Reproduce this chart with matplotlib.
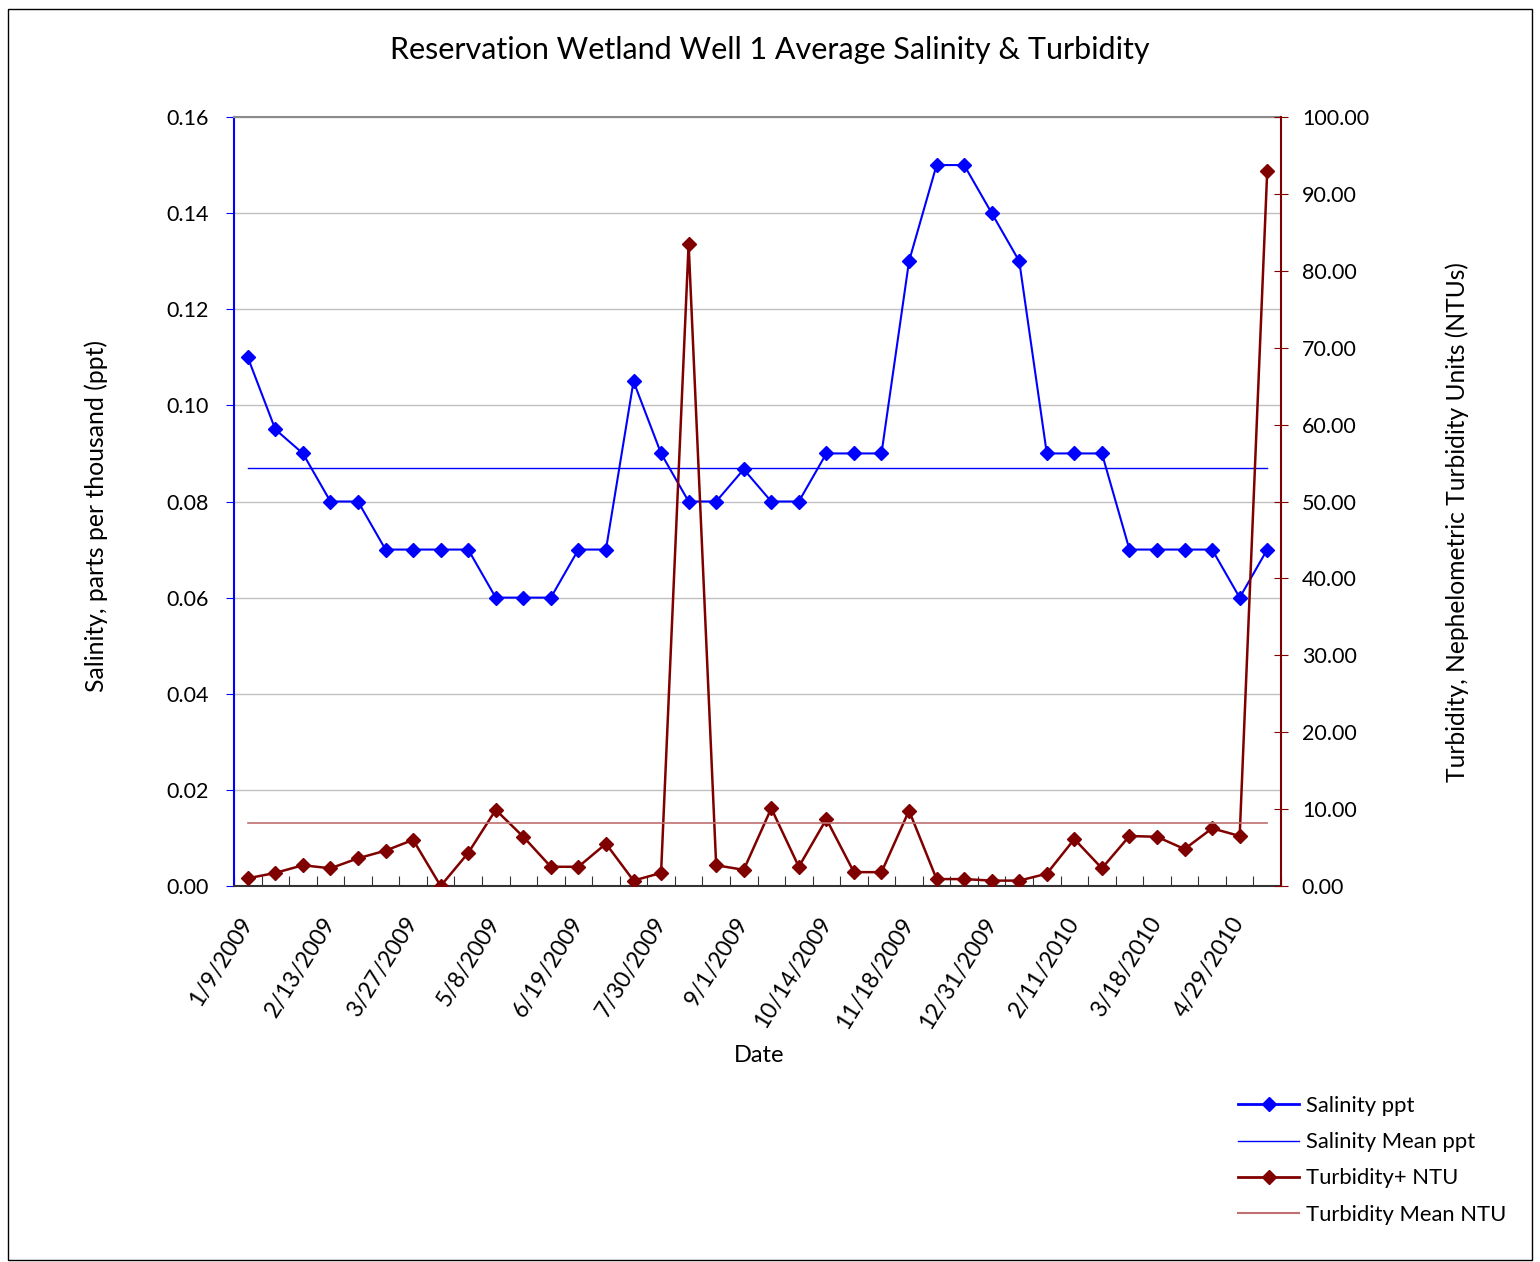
import matplotlib.pyplot as plt
import numpy as np
from matplotlib.lines import Line2D
from matplotlib.patches import Rectangle
from matplotlib.ticker import FormatStrFormatter

plt.rcParams['font.family'] = ['Lato', 'DejaVu Sans']

# labels shown on every 3rd sample date
date_labels = ['1/9/2009', '2/13/2009', '3/27/2009', '5/8/2009', '6/19/2009',
               '7/30/2009', '9/1/2009', '10/14/2009', '11/18/2009', '12/31/2009',
               '2/11/2010', '3/18/2010', '4/29/2010']

salinity = [0.11, 0.095, 0.09, 0.08, 0.08, 0.07, 0.07, 0.07, 0.07, 0.06,
            0.06, 0.06, 0.07, 0.07, 0.105, 0.09, 0.08, 0.08, 0.0867, 0.08,
            0.08, 0.09, 0.09, 0.09, 0.13, 0.15, 0.15, 0.14, 0.13, 0.09,
            0.09, 0.09, 0.07, 0.07, 0.07, 0.07, 0.06, 0.07]

turbidity = [1.0, 1.7, 2.7, 2.3, 3.6, 4.6, 6.0, 0.0, 4.3, 9.9,
             6.4, 2.5, 2.5, 5.5, 0.7, 1.7, 83.5, 2.7, 2.1, 10.1,
             2.5, 8.7, 1.8, 1.8, 9.8, 0.9, 0.9, 0.7, 0.7, 1.6,
             6.1, 2.3, 6.5, 6.4, 4.8, 7.5, 6.5, 93.0]

sal_mean = 0.087
turb_mean = 8.2

W, H = 1540, 1262
fig = plt.figure(figsize=(W / 100, H / 100), dpi=100)
ax = fig.add_axes([234 / W, 1 - 886 / H, (1281 - 234) / W, (886 - 117) / H])
ax2 = ax.twinx()

blue = '#0000FF'
red = '#800000'
x = np.arange(len(salinity))

ax.plot(x, salinity, color=blue, lw=1.5, marker='D', ms=7)
ax.plot([x[0], x[-1]], [sal_mean, sal_mean], color=blue, lw=1)
ax2.plot(x, turbidity, color=red, lw=1.8, marker='D', ms=7)
ax2.plot([x[0], x[-1]], [turb_mean, turb_mean], color='#C07070', lw=1.2)

ax.set_xlim(-0.5, len(x) - 0.5)
ax.set_ylim(0, 0.16)
ax2.set_ylim(0, 100)
ax.set_yticks(np.arange(0, 0.161, 0.02))
ax2.set_yticks(np.arange(0, 100.1, 10))
ax.yaxis.set_major_formatter(FormatStrFormatter('%.2f'))
ax2.yaxis.set_major_formatter(FormatStrFormatter('%.2f'))

# category boundaries get the tick marks, labels sit on the samples
ax.set_xticks(np.arange(-0.5, len(x), 1))
ax.set_xticklabels([])
ax.set_xticks(x[::3], minor=True)
ax.set_xticklabels(date_labels, minor=True, rotation=58, ha='right',
                   va='center', rotation_mode='anchor', fontsize=16.5)
ax.tick_params(axis='x', which='major', direction='in', length=7, color='#333333')
ax.tick_params(axis='x', which='minor', length=0, pad=24)

ax.tick_params(axis='y', direction='out', length=6, color=blue, labelsize=15.5, pad=12)
ax2.tick_params(axis='y', direction='inout', length=10, color=red, labelsize=15.5, pad=10)

ax.grid(axis='y', color='#C0C0C0', lw=1)
ax.set_axisbelow(True)

ax.spines['left'].set_color(blue)
ax.spines['left'].set_linewidth(1.5)
ax.spines['right'].set_visible(False)
ax.spines['top'].set_color('#8C8C8C')
ax.spines['top'].set_linewidth(1.5)
ax.spines['bottom'].set_color('#333333')
ax.spines['bottom'].set_linewidth(1.5)
for s in ['left', 'top', 'bottom']:
    ax2.spines[s].set_visible(False)
ax2.spines['right'].set_color(red)
ax2.spines['right'].set_linewidth(1.5)

fig.text(770 / W, 1 - 50 / H, 'Reservation Wetland Well 1 Average Salinity & Turbidity',
         ha='center', va='center', fontsize=22)
fig.text(759 / W, 1 - 1055 / H, 'Date', ha='center', va='center', fontsize=17)
fig.text(96 / W, 1 - 516 / H, 'Salinity, parts per thousand (ppt)',
         ha='center', va='center', rotation=90, fontsize=17.8)
fig.text(1457 / W, 1 - 522 / H, 'Turbidity, Nephelometric Turbidity Units (NTUs)',
         ha='center', va='center', rotation=90, fontsize=17.7)

handles = [Line2D([], [], color=blue, lw=2, marker='D', ms=7),
           Line2D([], [], color=blue, lw=1),
           Line2D([], [], color=red, lw=2, marker='D', ms=7),
           Line2D([], [], color='#C07070', lw=1.5)]
labels = ['Salinity ppt', 'Salinity Mean ppt', 'Turbidity+ NTU', 'Turbidity Mean NTU']
fig.legend(handles, labels, loc='upper left', bbox_to_anchor=(1238 / W, 1 - 1096 / H),
           frameon=False, fontsize=15.8, handlelength=2.8, handletextpad=0.3,
           labelspacing=0.74, borderpad=0, borderaxespad=0)

fig.patches.append(Rectangle((8 / W, 2 / H), 1524 / W, 1251 / H, transform=fig.transFigure,
                             fill=False, edgecolor='black', lw=1))

fig.savefig('out.png', dpi=100)
